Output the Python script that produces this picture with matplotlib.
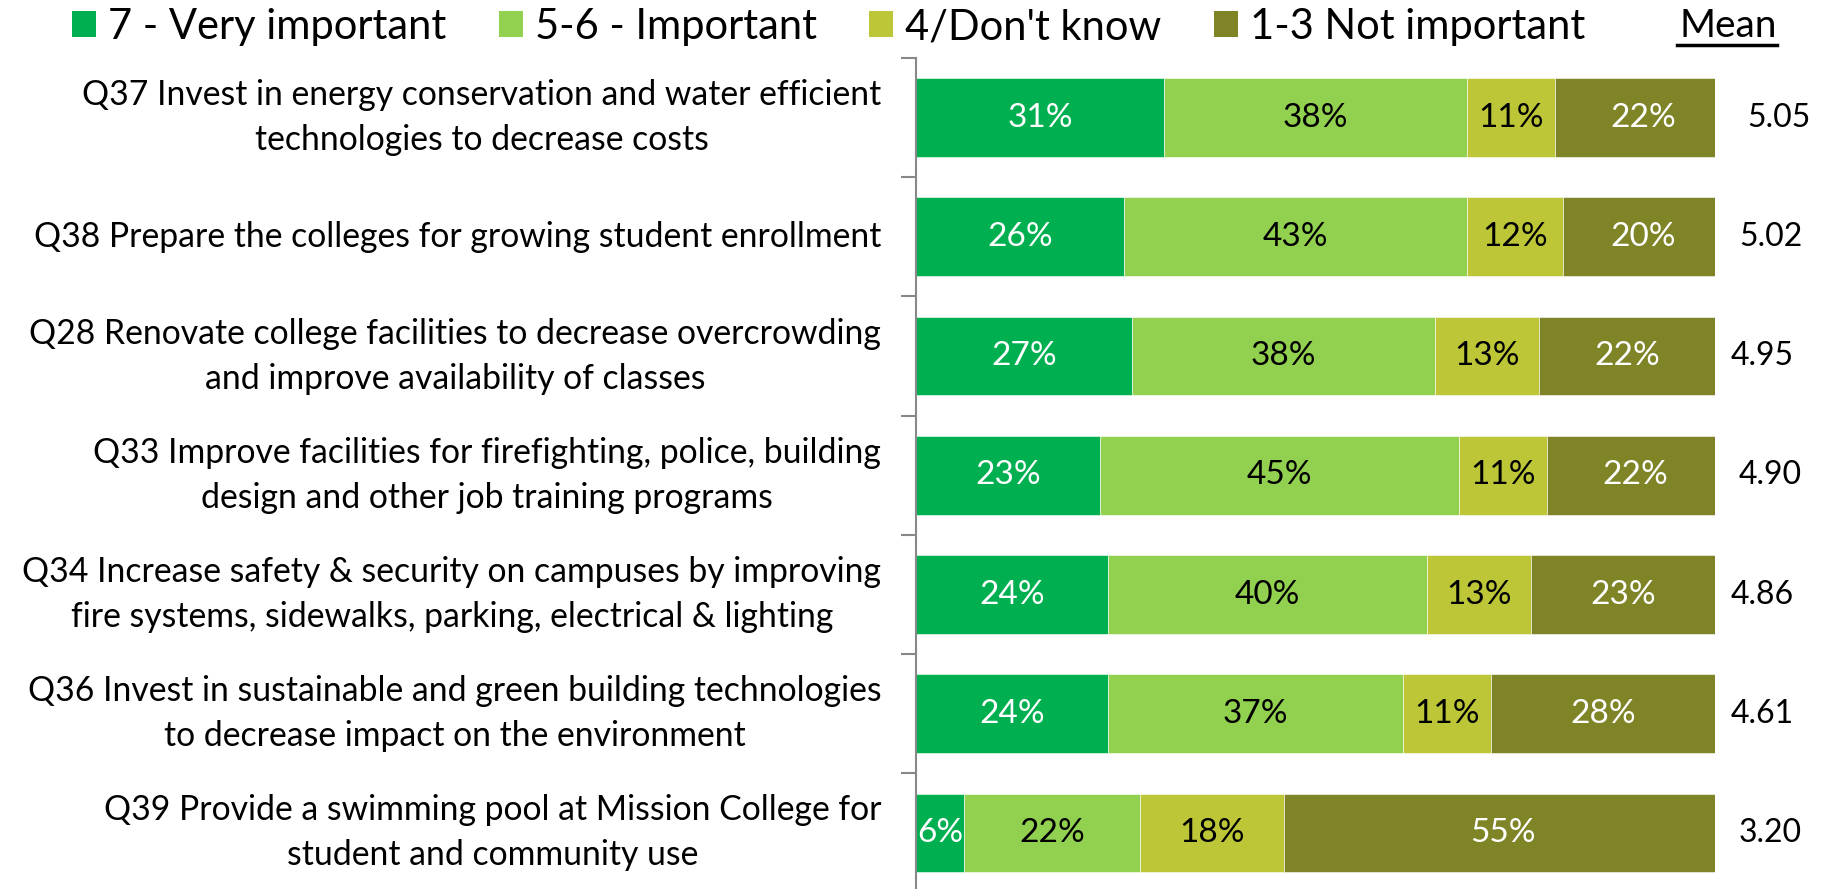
import matplotlib
matplotlib.use("Agg")
import matplotlib.pyplot as plt
from matplotlib.lines import Line2D
from matplotlib.patches import Patch
import numpy as np

plt.rcParams['font.family'] = ['Lato', 'DejaVu Sans']

categories = [
    "Q37 Invest in energy conservation and water efficient\ntechnologies to decrease costs",
    "Q38 Prepare the colleges for growing student enrollment",
    "Q28 Renovate college facilities to decrease overcrowding\nand improve availability of classes",
    "Q33 Improve facilities for firefighting, police, building\ndesign and other job training programs",
    "Q34 Increase safety & security on campuses by improving\nfire systems, sidewalks, parking, electrical & lighting",
    "Q36 Invest in sustainable and green building technologies\nto decrease impact on the environment",
    "Q39 Provide a swimming pool at Mission College for\nstudent and community use",
]
very_important = [31, 26, 27, 23, 24, 24, 6]
important = [38, 43, 38, 45, 40, 37, 22]
dont_know = [11, 12, 13, 11, 13, 11, 18]
not_important = [22, 20, 22, 22, 23, 28, 55]
means = ["5.05", "5.02", "4.95", "4.90", "4.86", "4.61", "3.20"]

series_names = ["7 - Very important", "5-6 - Important", "4/Don't know", "1-3 Not important"]
series = [very_important, important, dont_know, not_important]
colors = ["#00B050", "#92D050", "#BDC637", "#7F8427"]
text_colors = ["white", "black", "black", "white"]

W, H = 1826, 889
fig = plt.figure(figsize=(W / 100, H / 100), dpi=100)
ax_left = 916 / W
ax_right = 1715 / W
ax_top = 1 - 58 / H
ax_bottom = -3.6 / H
ax = fig.add_axes([ax_left, ax_bottom, ax_right - ax_left, ax_top - ax_bottom])

y = np.arange(len(categories))
left = np.zeros(len(categories))
for vals, col, tcol in zip(series, colors, text_colors):
    vals = np.array(vals, dtype=float)
    ax.barh(y, vals, left=left, height=0.66, color=col,
            edgecolor="white", linewidth=0.4)
    for yi, l, v in zip(y, left, vals):
        ax.text(l + v / 2, yi, f"{int(v)}%", ha="center", va="center",
                color=tcol, fontsize=24)
    left = left + vals

for yi, tot, m in zip(y, left, means):
    ax.text(tot + 2.0, yi, m, ha="left", va="center", fontsize=23,
            color="black", clip_on=False)

ax.set_xlim(0, 100)
ax.set_ylim(len(categories) - 0.5, -0.5)
ax.set_yticks(y)
ax.set_yticklabels(categories, fontsize=24.3, ha="right", va="center",
                   multialignment="center", linespacing=1.5)
ax.set_yticks(np.arange(len(categories) + 1) - 0.5, minor=True)
ax.tick_params(axis="y", which="major", length=0, pad=25)
ax.tick_params(axis="y", which="minor", length=11, width=1.5, color="#888888")
ax.set_xticks([])
for s in ["top", "right", "bottom"]:
    ax.spines[s].set_visible(False)
ax.spines["left"].set_color("#888888")
ax.spines["left"].set_linewidth(1.5)

handles = [Patch(facecolor=c, edgecolor="none") for c in colors]
fig.legend(handles, series_names, loc="center left",
           bbox_to_anchor=(72 / W, 1 - 27 / H), ncol=4, frameon=False,
           fontsize=30, handlelength=0.58, handleheight=0.58,
           handletextpad=0.29, columnspacing=1.25, borderaxespad=0, borderpad=0)

fig.text(1777 / W, 1 - 26 / H, "Mean", ha="right", va="center", fontsize=28)
fig.add_artist(Line2D([1677 / W, 1777 / W], [1 - 45 / H, 1 - 45 / H],
                      color="black", linewidth=2.5, transform=fig.transFigure))

fig.savefig("out.png", dpi=100)
